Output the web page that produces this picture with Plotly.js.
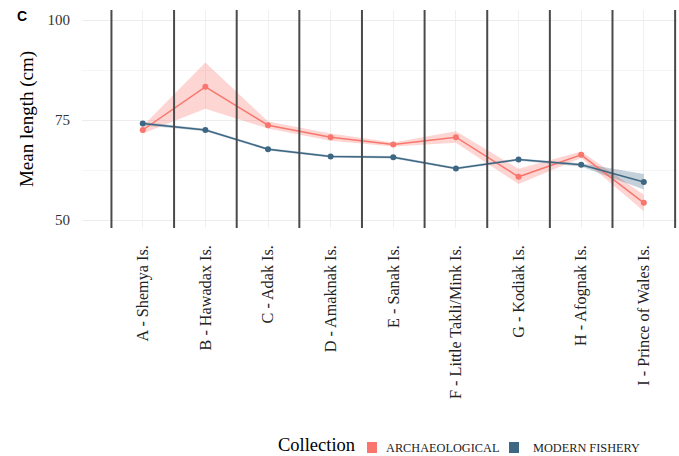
<!DOCTYPE html>
<html>
<head>
<meta charset="utf-8">
<script src="https://cdn.plot.ly/plotly-3.0.1.min.js"></script>
<style>html,body{margin:0;padding:0;background:#fff}#chart{width:679px;height:456px}</style>
</head>
<body>
<div id="chart"></div>
<script>
const categories = ["A - Shemya Is.", "B - Hawadax Is.", "C - Adak Is.", "D - Amaknak Is.", "E - Sanak Is.", "F - Little Takli/Mink Is.", "G - Kodiak Is.", "H - Afognak Is.", "I - Prince of Wales Is."];
const archMean  = [72.5, 83.3, 73.7, 70.7, 68.9, 70.7, 60.8, 66.3, 54.3];
const archLower = [71.6, 77.8, 72.9, 69.8, 68.4, 69.3, 59.0, 65.5, 52.2];
const archUpper = [73.5, 89.4, 74.6, 71.6, 69.4, 72.2, 62.8, 67.1, 56.3];
const modMean   = [74.1, 72.5, 67.7, 65.9, 65.7, 62.9, 65.1, 63.8, 59.5];
const modLower  = [73.7, 72.2, 67.4, 65.6, 65.4, 62.6, 64.8, 63.4, 57.6];
const modUpper  = [74.5, 72.8, 68.0, 66.2, 66.0, 63.2, 65.4, 64.2, 61.5];
const yTicks = [50, 75, 100];
const seriesNames = ["ARCHAEOLOGICAL", "MODERN FISHERY"];
const legendTitle = "Collection";

const red = "#F8766D", blue = "#3E6783";
const serif = "'Liberation Serif', 'Times New Roman', serif";

function band(lower, upper, color) {
  return [
    {x: categories, y: upper, type: "scatter", mode: "lines", line: {width: 0, color: color}, showlegend: false, hoverinfo: "skip"},
    {x: categories, y: lower, type: "scatter", mode: "lines", line: {width: 0, color: color}, fill: "tonexty", fillcolor: color, showlegend: false, hoverinfo: "skip"}
  ];
}

const traces = [
  ...band(archLower, archUpper, "rgba(248,118,109,0.3)"),
  ...band(modLower, modUpper, "rgba(62,103,131,0.3)"),
  {x: categories, y: archMean, type: "scatter", mode: "lines+markers", name: seriesNames[0], line: {color: red, width: 1.5}, marker: {color: red, size: 6}, showlegend: false},
  {x: categories, y: modMean, type: "scatter", mode: "lines+markers", name: seriesNames[1], line: {color: blue, width: 1.5}, marker: {color: blue, size: 6}, showlegend: false}
];

const shapes = [];
for (let i = 0; i <= categories.length; i++) {
  shapes.push({type: "line", xref: "x", yref: "paper", x0: i - 0.5, x1: i - 0.5, y0: 0, y1: 1, line: {color: "#4a4a4a", width: 2}, layer: "above"});
}

// manual legend (pixel -> paper helpers)
const PL = 82, PW = 595, PT = 10, PH = 218;
const px = v => (v - PL) / PW;
const py = v => (PT + PH - v) / PH;
const legendItems = [
  {name: seriesNames[0], color: red, sq: 367, tx: 385},
  {name: seriesNames[1], color: blue, sq: 509, tx: 532}
];
const annotations = [
  {xref: "paper", yref: "paper", x: px(276), y: py(445), xanchor: "left", yanchor: "middle", showarrow: false, text: legendTitle, font: {family: serif, size: 18.5, color: "#000"}}
];
legendItems.forEach(it => {
  shapes.push({type: "rect", xref: "paper", yref: "paper", x0: px(it.sq), x1: px(it.sq + 10), y0: py(453), y1: py(442), fillcolor: it.color, line: {width: 0}});
  annotations.push({xref: "paper", yref: "paper", x: px(it.tx - 1), y: py(448), xanchor: "left", yanchor: "middle", showarrow: false, text: it.name, font: {family: serif, size: 12.3, color: "#222"}});
});

const layout = {
  width: 679, height: 456,
  margin: {l: 82, r: 2, t: 10, b: 228},
  paper_bgcolor: "#fff", plot_bgcolor: "#fff",
  showlegend: false,
  title: {text: "<b>C</b>", x: 0.025, xanchor: "left", xref: "container", y: 0.975, yref: "container", yanchor: "top", font: {family: "Liberation Sans, Arial, sans-serif", size: 14, color: "#000"}},
  xaxis: {
    type: "category", range: [-0.97, 8.53], showgrid: true, gridcolor: "#f0f0f0", gridwidth: 1,
    zeroline: false, showline: false, ticks: "", tickangle: -90, ticklabelstandoff: 13,
    tickfont: {family: serif, size: 16.2, color: "#222"}
  },
  yaxis: {
    range: [48, 102.5], tickvals: yTicks, ticktext: yTicks.map(String),
    showgrid: true, gridcolor: "#ececec", gridwidth: 1, zeroline: false, showline: false, ticks: "",
    ticklabelstandoff: 11,
    minor: {tickvals: [62.5, 87.5], showgrid: true, gridcolor: "#f5f5f5", gridwidth: 1},
    tickfont: {family: serif, size: 15, color: "#333"},
    title: {text: "Mean length (cm)", font: {family: serif, size: 19, color: "#000"}, standoff: 8}
  },
  shapes: shapes,
  annotations: annotations
};

Plotly.newPlot("chart", traces, layout, {displayModeBar: false, staticPlot: true});
</script>
</body>
</html>
